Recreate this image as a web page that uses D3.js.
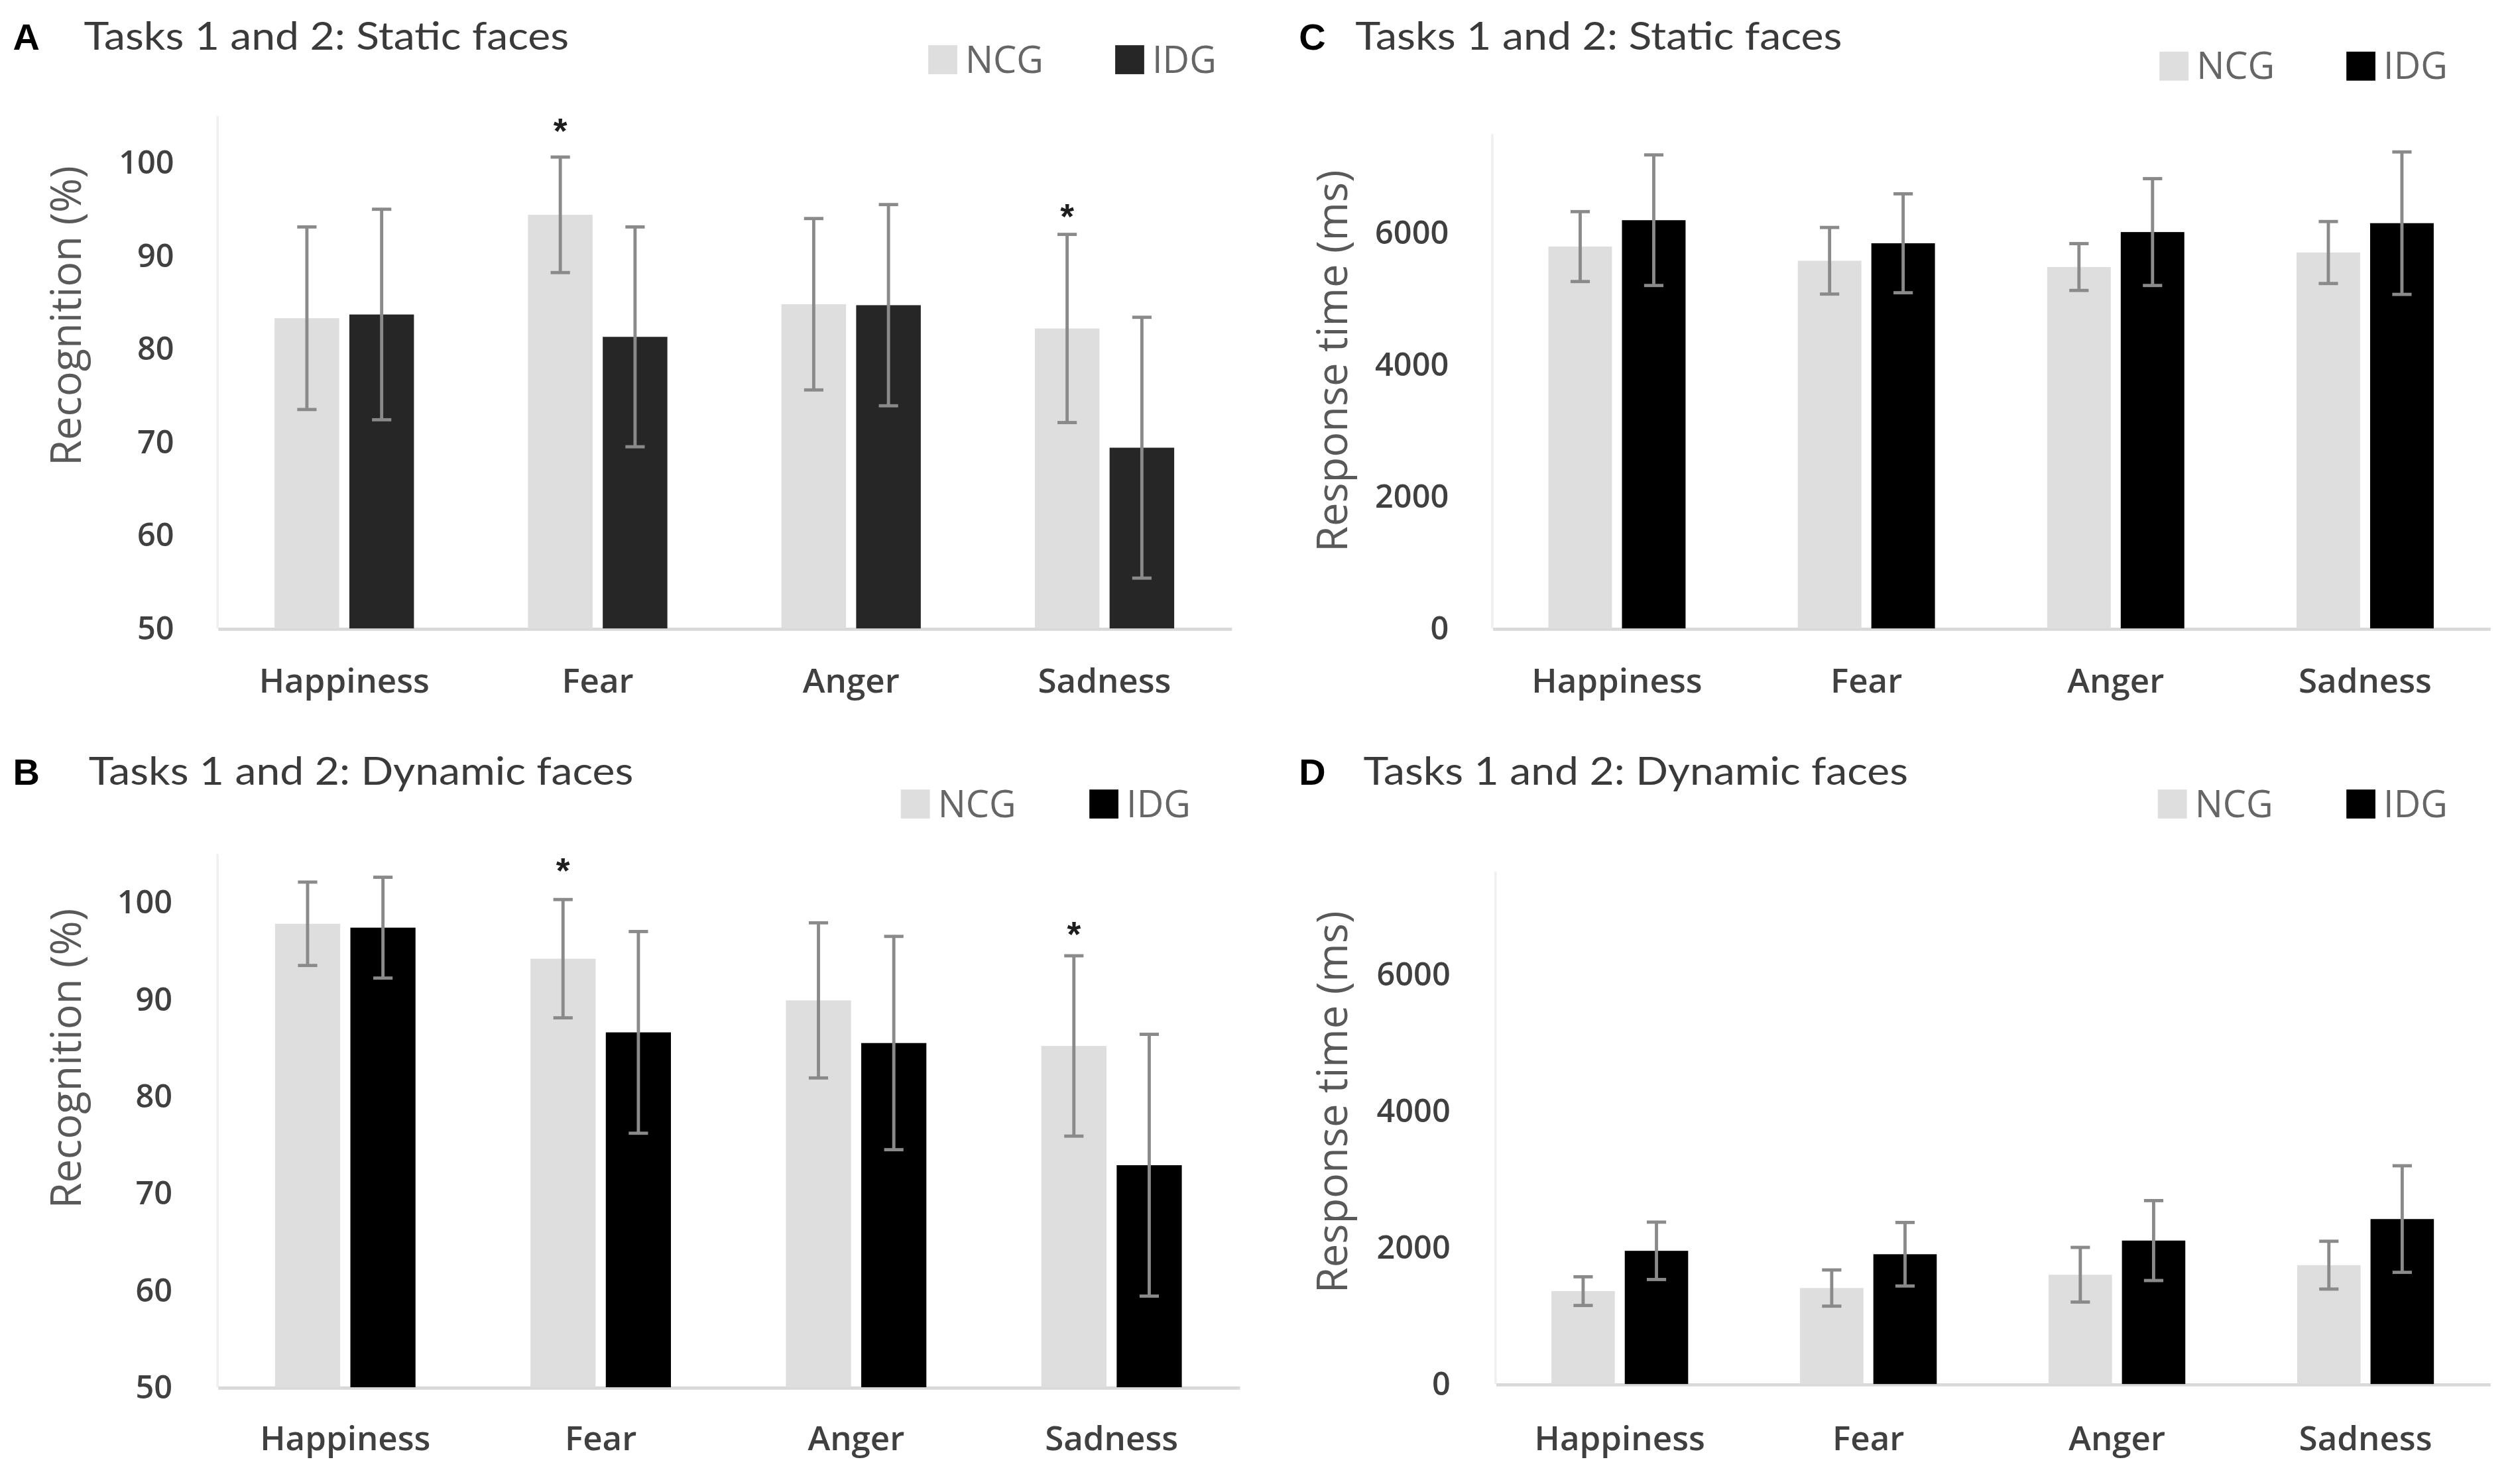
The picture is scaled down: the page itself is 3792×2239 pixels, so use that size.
<!DOCTYPE html>
<html>
<head>
<meta charset="utf-8">
<script src="https://cdn.jsdelivr.net/npm/d3@7"></script>
<style>
  body { margin: 0; background: #fff; }
  svg { display: block; }
</style>
</head>
<body>
<div id="chart"></div>
<script>
// categories shared by all four panels
var categories = ["Happiness", "Fear", "Anger", "Sadness"];
var groups = ["NCG", "IDG"];

// A: static faces, recognition (%)
var ncgStaticRec = [83.3, 94.4, 84.8, 82.2];
var ncgStaticRecSd = [9.8, 6.2, 9.2, 10.1];
var idgStaticRec = [83.7, 81.3, 84.7, 69.4];
var idgStaticRecSd = [11.3, 11.8, 10.8, 14.0];
var starsStaticRec = [{cat: "Fear", v: 104.2}, {cat: "Sadness", v: 95.0}];

// B: dynamic faces, recognition (%)
var ncgDynRec = [97.8, 94.2, 89.9, 85.2];
var ncgDynRecSd = [4.3, 6.1, 8.0, 9.3];
var idgDynRec = [97.4, 86.6, 85.5, 72.9];
var idgDynRecSd = [5.2, 10.4, 11.0, 13.5];
var starsDynRec = [{cat: "Fear", v: 104.0}, {cat: "Sadness", v: 97.5}];

// C: static faces, response time (ms)
var ncgStaticRt = [5790, 5575, 5480, 5700];
var ncgStaticRtSd = [530, 505, 355, 470];
var idgStaticRt = [6190, 5840, 6010, 6145];
var idgStaticRtSd = [990, 750, 810, 1080];

// D: dynamic faces, response time (ms)
var ncgDynRt = [1360, 1405, 1600, 1740];
var ncgDynRtSd = [210, 265, 400, 350];
var idgDynRt = [1950, 1900, 2100, 2415];
var idgDynRtSd = [420, 465, 585, 780];

var recogTicks = [50, 60, 70, 80, 90, 100];
var rtTicks = [0, 2000, 4000, 6000];

var W = 1560, H = 921;

var svg = d3.select("#chart").append("svg")
    .attr("width", 3792)
    .attr("height", 2239)
    .attr("viewBox", "0 0 " + W + " " + H);

svg.append("rect").attr("width", W).attr("height", H).attr("fill", "#fff");

var panels = [
  {letter: "A", letterX: 8, title: "Tasks 1 and 2: Static faces", titleX: 52, titleY: 31, titleW: 301,
   legendX: 576, legendY: 28, idgX: 692,
   ncg: ncgStaticRec, ncgSd: ncgStaticRecSd, idg: idgStaticRec, idgSd: idgStaticRecSd,
   idgColor: "#262626", stars: starsStaticRec,
   x0: 135, x1: 764, yBase: 390, yTop: 72, domain: [50, 105], ticks: recogTicks, tickX: 108,
   yLabel: "Recognition (%)", yLabelX: 40, yLabelY: 196, catY: 430},
  {letter: "B", letterX: 8, title: "Tasks 1 and 2: Dynamic faces", titleX: 55, titleY: 487, titleW: 338,
   legendX: 559, legendY: 490, idgX: 676,
   ncg: ncgDynRec, ncgSd: ncgDynRecSd, idg: idgDynRec, idgSd: idgDynRecSd,
   idgColor: "#000", stars: starsDynRec,
   x0: 135, x1: 769, yBase: 861, yTop: 530, domain: [50, 105], ticks: recogTicks, tickX: 107,
   yLabel: "Recognition (%)", yLabelX: 40, yLabelY: 657, catY: 900},
  {letter: "C", letterX: 806, title: "Tasks 1 and 2: Static faces", titleX: 841, titleY: 31, titleW: 302,
   legendX: 1340, legendY: 32, idgX: 1456,
   ncg: ncgStaticRt, ncgSd: ncgStaticRtSd, idg: idgStaticRt, idgSd: idgStaticRtSd,
   idgColor: "#000", stars: [],
   x0: 926, x1: 1545, yBase: 390, yTop: 83, domain: [0, 7500], ticks: rtTicks, tickX: 899,
   yLabel: "Response time (ms)", yLabelX: 826, yLabelY: 224, catY: 430},
  {letter: "D", letterX: 806, title: "Tasks 1 and 2: Dynamic faces", titleX: 846, titleY: 487, titleW: 338,
   legendX: 1339, legendY: 490, idgX: 1456,
   ncg: ncgDynRt, ncgSd: ncgDynRtSd, idg: idgDynRt, idgSd: idgDynRtSd,
   idgColor: "#000", stars: [],
   x0: 928, x1: 1545, yBase: 859, yTop: 541, domain: [0, 7500], ticks: rtTicks, tickX: 900,
   yLabel: "Response time (ms)", yLabelX: 826, yLabelY: 684, catY: 900}
];

var ncgColor = "#dedede";
var errColor = "#8a8a8a";

function drawPanel(p) {
  var g = svg.append("g").attr("class", "panel");

  var x = d3.scaleBand()
    .domain(categories)
    .range([p.x0, p.x1])
    .padding(0);

  var y = d3.scaleLinear()
    .domain(p.domain)
    .range([p.yBase, p.yTop]);

  var bw = x.bandwidth() * 0.255,
      gap = x.bandwidth() * 0.04;

  // panel letter and title
  g.append("text")
    .attr("x", p.letterX)
    .attr("y", p.titleY)
    .attr("font-family", "Liberation Sans, Arial, sans-serif")
    .attr("font-weight", "bold")
    .attr("font-size", 23)
    .attr("fill", "#000")
    .text(p.letter);

  g.append("text")
    .attr("x", p.titleX)
    .attr("y", p.titleY)
    .attr("font-family", "Lato, sans-serif")
    .attr("font-size", 24)
    .attr("fill", "#3a3a3a")
    .attr("textLength", p.titleW)
    .attr("lengthAdjust", "spacingAndGlyphs")
    .text(p.title);

  // legend
  var leg = [{name: groups[0], color: ncgColor, x: p.legendX},
             {name: groups[1], color: p.idgColor, x: p.idgX}];
  leg.forEach(function(l) {
    g.append("rect")
      .attr("x", l.x)
      .attr("y", p.legendY)
      .attr("width", 18)
      .attr("height", 18)
      .attr("fill", l.color);
    g.append("text")
      .attr("x", l.x + 23)
      .attr("y", p.legendY + 17)
      .attr("font-family", "Open Sans, sans-serif")
      .attr("font-size", 23)
      .attr("fill", "#666")
      .text(l.name);
  });

  // faint vertical axis line
  g.append("line")
    .attr("x1", p.x0).attr("x2", p.x0)
    .attr("y1", p.yTop).attr("y2", p.yBase)
    .attr("stroke", "#f0f0f0")
    .attr("stroke-width", 1.5);

  // y axis ticks
  var yAxis = d3.axisLeft(y)
    .tickValues(p.ticks)
    .tickFormat(d3.format("d"))
    .tickSize(0)
    .tickPadding(0);
  var ya = g.append("g")
    .attr("transform", "translate(" + p.tickX + ",0)")
    .call(yAxis);
  ya.select(".domain").remove();
  ya.selectAll("text")
    .attr("font-family", "Open Sans, sans-serif")
    .attr("font-weight", 600)
    .attr("font-size", 20)
    .attr("fill", "#404040");

  // x axis categories
  var xAxis = d3.axisBottom(x).tickSize(0).tickPadding(0);
  var xa = g.append("g")
    .attr("transform", "translate(0," + p.yBase + ")")
    .call(xAxis);
  xa.select(".domain")
    .attr("stroke", "#d9d9d9")
    .attr("stroke-width", 2);
  xa.selectAll("text")
    .attr("y", p.catY - p.yBase)
    .attr("dy", 0)
    .attr("font-family", "Open Sans, sans-serif")
    .attr("font-weight", 600)
    .attr("font-size", 21)
    .attr("fill", "#404040");

  // y axis title
  g.append("text")
    .attr("transform", "translate(" + p.yLabelX + "," + p.yLabelY + ") rotate(-90)")
    .attr("text-anchor", "middle")
    .attr("dominant-baseline", "central")
    .attr("font-family", "Open Sans, sans-serif")
    .attr("font-size", 26)
    .attr("fill", "#595959")
    .text(p.yLabel);

  var rows = categories.map(function(c, i) {
    return {cat: c, ncg: p.ncg[i], ncgSd: p.ncgSd[i], idg: p.idg[i], idgSd: p.idgSd[i]};
  });

  var series = [
    {key: "ncg", color: ncgColor, off: function(c) { return x(c) + x.bandwidth() / 2 - gap / 2 - bw; }},
    {key: "idg", color: p.idgColor, off: function(c) { return x(c) + x.bandwidth() / 2 + gap / 2; }}
  ];

  series.forEach(function(s) {
    g.selectAll(".bar-" + s.key)
      .data(rows)
      .enter().append("rect")
      .attr("class", "bar-" + s.key)
      .attr("x", function(d) { return s.off(d.cat); })
      .attr("y", function(d) { return y(d[s.key]); })
      .attr("width", bw)
      .attr("height", function(d) { return p.yBase - y(d[s.key]); })
      .attr("fill", s.color);
  });

  // error bars drawn on top
  series.forEach(function(s) {
    var eb = g.selectAll(".err-" + s.key)
      .data(rows)
      .enter().append("g")
      .attr("class", "err-" + s.key)
      .attr("transform", function(d) { return "translate(" + (s.off(d.cat) + bw / 2) + ",0)"; });
    eb.append("line")
      .attr("y1", function(d) { return y(d[s.key] + d[s.key + "Sd"]); })
      .attr("y2", function(d) { return y(d[s.key] - d[s.key + "Sd"]); })
      .attr("stroke", errColor)
      .attr("stroke-width", 2);
    [1, -1].forEach(function(sign) {
      eb.append("line")
        .attr("x1", -6).attr("x2", 6)
        .attr("y1", function(d) { return y(d[s.key] + sign * d[s.key + "Sd"]); })
        .attr("y2", function(d) { return y(d[s.key] + sign * d[s.key + "Sd"]); })
        .attr("stroke", errColor)
        .attr("stroke-width", 2);
    });
  });

  // significance stars above the NCG bar
  g.selectAll(".star")
    .data(p.stars)
    .enter().append("text")
    .attr("class", "star")
    .attr("x", function(d) { return series[0].off(d.cat) + bw / 2; })
    .attr("y", function(d) { return y(d.v); })
    .attr("dy", "0.55em")
    .attr("text-anchor", "middle")
    .attr("font-family", "Liberation Sans, Arial, sans-serif")
    .attr("font-weight", "bold")
    .attr("font-size", 22)
    .attr("fill", "#1e1e1e")
    .text("*");
}

panels.forEach(drawPanel);
</script>
</body>
</html>
